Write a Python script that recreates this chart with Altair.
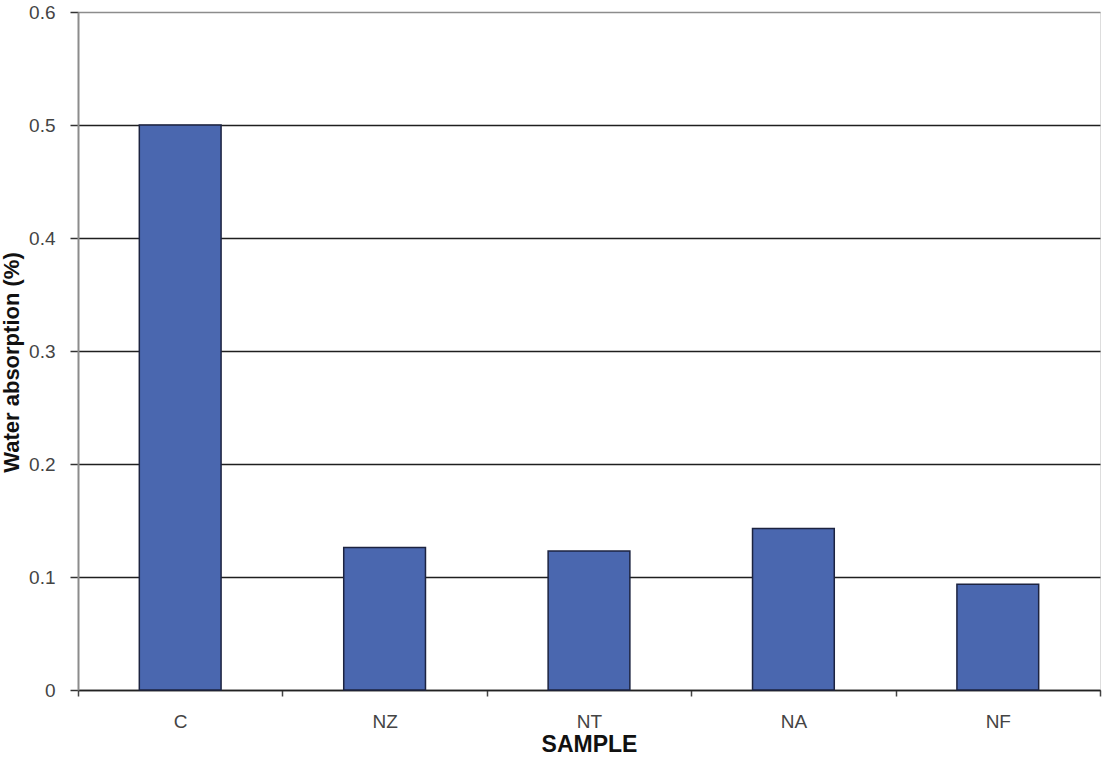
import altair as alt
import pandas as pd

# Water absorption per sample
samples = ["C", "NZ", "NT", "NA", "NF"]
absorption = [0.5, 0.126, 0.123, 0.143, 0.0935]

df = pd.DataFrame({"Sample": samples, "Absorption": absorption})

FONT = "Liberation Sans"

bars = alt.Chart(df).mark_bar(
    width=alt.RelativeBandSize(0.4),
    color="#4a67af",
    stroke="#1c2340",
    strokeWidth=1.5,
).encode(
    x=alt.X(
        "Sample:N",
        sort=samples,
        scale=alt.Scale(paddingInner=0, paddingOuter=0),
        axis=alt.Axis(
            title="SAMPLE",
            labelAngle=0,
            tickBand="extent",
            ticks=True,
            tickSize=6,
            tickColor="#444444",
            tickWidth=1.5,
            domainColor="#222222",
            domainWidth=1.5,
            grid=False,
            labelFont=FONT,
            labelFontSize=19,
            labelColor="#444444",
            labelPadding=16,
            titleFont=FONT,
            titleFontSize=23,
            titleFontWeight="bold",
            titleColor="#111111",
            titlePadding=2,
        ),
    ),
    y=alt.Y(
        "Absorption:Q",
        scale=alt.Scale(domain=[0, 0.6], nice=False),
        axis=alt.Axis(
            title="Water absorption (%)",
            values=[0, 0.1, 0.2, 0.3, 0.4, 0.5, 0.6],
            format="~g",
            grid=True,
            gridColor={
                "condition": {"test": "datum.value >= 0.6", "value": "#8c8c8c"},
                "value": "#1f1f1f",
            },
            gridWidth=1.5,
            tickSize=8,
            tickColor="#333333",
            tickWidth=1.5,
            domainColor="#8c8c8c",
            domainWidth=2,
            labelFont=FONT,
            labelFontSize=19,
            labelColor="#444444",
            labelPadding=15,
            titleFont=FONT,
            titleFontSize=22,
            titleFontWeight="bold",
            titleColor="#111111",
            titleAngle=270,
            titleBaseline="middle",
            titleX=-67,
            titleY=350,
        ),
    ),
)

chart = bars.properties(
    width=1022,
    height=678,
    autosize="none",
    padding={"left": 78, "top": 12, "right": 2, "bottom": 71},
).configure_view(
    stroke="#8c8c8c",
    strokeWidth=2,
).configure(background="white")

chart.save("out.html", embed_options={"renderer": "svg", "actions": False})
